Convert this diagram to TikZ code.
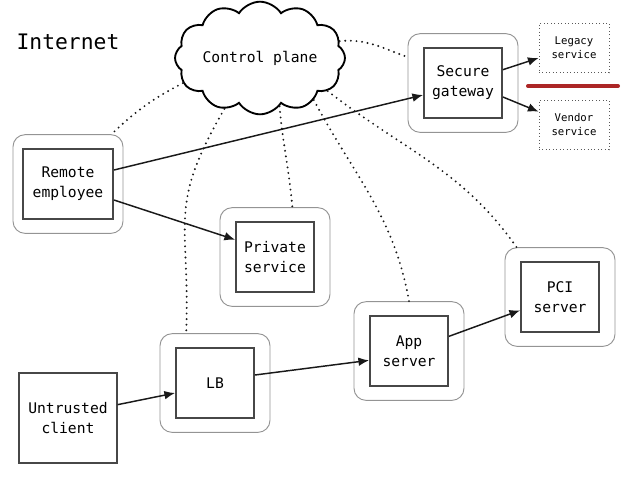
\documentclass[tikz,border=0pt]{standalone}
\usepackage{fontspec}
\setmonofont{DejaVu Sans Mono}
\usepackage{tikz}
\usetikzlibrary{arrows.meta,shapes.symbols}

\begin{document}
\begin{tikzpicture}[x=0.75pt, y=-0.75pt,
  box/.style={draw=black!72, line width=1.4pt, align=center, font=\ttfamily\fontsize{11}{15}\selectfont, minimum width=58.5pt, minimum height=52.5pt, inner sep=2pt, fill=white},
  zone/.style={draw=black!42, line width=0.7pt, rounded corners=9pt, minimum width=82.5pt, minimum height=74pt},
  ext/.style={draw=black!65, dotted, line width=0.6pt, align=center, font=\ttfamily\fontsize{8}{10.5}\selectfont, minimum width=52.5pt, minimum height=37pt},
  arr/.style={-{Latex[length=8pt,width=6.5pt]}, line width=1.1pt, draw=black!90},
  ctl/.style={line width=1.6pt, line cap=round, dash pattern=on 0pt off 4.2pt, draw=black!90}]
\useasboundingbox (0,0) rectangle (629,480);
\node[font=\ttfamily\fontsize{16}{18}\selectfont] (inet) at (68,42) {Internet};
\node[cloud, draw, line width=1.4pt, cloud puffs=12, cloud puff arc=115, aspect=1.75, minimum width=102pt, minimum height=62pt, inner sep=0pt, font=\ttfamily\fontsize{11}{15}\selectfont] (cp) at (260,58) {Control plane};
% services
\node[box, minimum width=67.5pt] (emp) at (68,184) {Remote\\employee};
\node[zone] (empz) at (emp.center) {};
\node[box] (prv) at (275,257) {Private\\service};
\node[zone] (prvz) at (prv.center) {};
\node[box] (gw) at (463,83) {Secure\\gateway};
\node[zone] (gwz) at (gw.center) {};
\node[box] (lb) at (215,383) {LB};
\node[zone] (lbz) at (lb.center) {};
\node[box] (app) at (409,351) {App\\server};
\node[zone] (appz) at (app.center) {};
\node[box] (pci) at (560,297) {PCI\\server};
\node[zone] (pciz) at (pci.center) {};
\node[box, minimum width=73pt, minimum height=67.5pt] (cli) at (68,418) {Untrusted\\client};
\node[ext] (leg) at (574,48) {Legacy\\service};
\node[ext] (ven) at (574,125) {Vendor\\service};
\coordinate (cutl) at (528,86);
\coordinate (cutr) at (618,86);
\draw[line width=3pt, draw=red!62!black, opacity=0.85, line cap=round] (cutl) -- (cutr);
% traffic
\draw[arr] ([yshift=10.5pt]emp.east) -- ([yshift=-9pt]gw.west);
\draw[arr] ([yshift=-12pt]emp.east) -- ([yshift=13pt]prv.west);
\draw[arr] ([yshift=10pt]cli.east) -- ([yshift=-7.5pt]lb.west);
\draw[arr] ([yshift=6pt]lb.east) -- ([yshift=-7pt]app.west);
\draw[arr] ([yshift=11pt]app.east) -- ([yshift=-10pt]pci.west);
\draw[arr] ([yshift=10pt]gw.east) -- ([yshift=-7.5pt]leg.west);
\draw[arr] ([yshift=-10.5pt]gw.east) -- ([yshift=10pt]ven.west);
% control plane
\draw[ctl] (cp.198) to[bend right=8] ([xshift=-9pt]empz.north east);
\draw[ctl] (cp.235) to[out=240, in=88, looseness=1.3] ([xshift=20pt]lbz.north west);
\draw[ctl] (cp.292) to[out=275, in=95] ([xshift=13pt]prvz.north);
\draw[ctl] (cp.322) to[out=298, in=100] (appz.north);
\draw[ctl] (cp.334) to[out=322, in=125] ([xshift=9pt]pciz.north west);
\draw[ctl] (cp.12) to[out=5, in=160] (gwz.155);
\end{tikzpicture}
\end{document}
